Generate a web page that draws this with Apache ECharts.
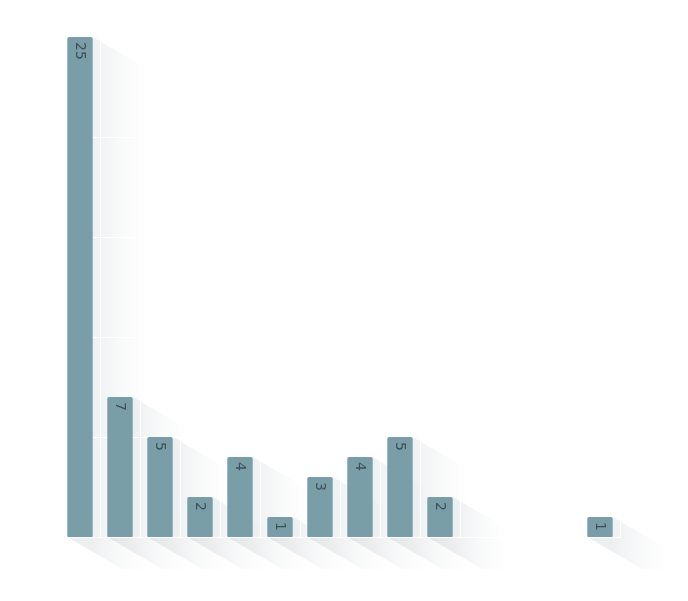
<!DOCTYPE html>
<html>
<head>
<meta charset="utf-8">
<script src="https://cdn.jsdelivr.net/npm/echarts@6/dist/echarts.min.js"></script>
<style>html,body{margin:0;padding:0;background:#fff;}#main{width:688px;height:601px;}</style>
</head>
<body>
<div id="main"></div>
<script>
var categories = ['1','2','3','4','5','6','7','8','9','10','11','12','13','14'];
var values = [25, 7, 5, 2, 4, 1, 3, 4, 5, 2, null, null, null, 1];
var yTicks = [0, 5, 10, 15, 20, 25];

var chart = echarts.init(document.getElementById('main'));
var BAR_RATIO = 0.635;
var shadowData = values.map(function (v, i) { return [i, v == null ? 0 : v]; });

function renderShadow(params, api) {
  var idx = api.value(0);
  var v = api.value(1);
  if (!v) return null;
  var top = api.coord([idx, v]);
  var base = api.coord([idx, 0]);
  var w = api.size([1, 0])[0] * BAR_RATIO;
  var xL = top[0] - w / 2, xR = top[0] + w / 2;
  var dx = 55, dy = 32;
  var pts = [
    [xL, top[1]], [xR, top[1]], [xR + dx, top[1] + dy],
    [xR + dx, base[1] + dy], [xL + dx, base[1] + dy], [xL, base[1]]
  ];
  var f = w / (w + dx);
  return {
    type: 'polygon',
    shape: { points: pts },
    style: {
      fill: new echarts.graphic.LinearGradient(0, 0, 1, 0, [
        { offset: 0, color: 'rgba(60,85,95,0.10)' },
        { offset: f, color: 'rgba(60,85,95,0.09)' },
        { offset: f + (1 - f) * 0.5, color: 'rgba(60,85,95,0.03)' },
        { offset: 1, color: 'rgba(60,85,95,0)' }
      ])
    },
    silent: true
  };
}

chart.setOption({
  animation: false,
  backgroundColor: '#ffffff',
  grid: { left: 60, right: 68, top: 37, bottom: 64 },
  xAxis: {
    type: 'category',
    data: categories,
    z: 2,
    axisLine: { show: true, lineStyle: { color: '#ffffff', width: 1 } },
    axisTick: { show: false },
    axisLabel: { show: false },
    splitLine: { show: true, interval: 0, lineStyle: { color: '#ffffff', width: 1 } }
  },
  yAxis: {
    type: 'value',
    min: yTicks[0],
    max: yTicks[yTicks.length - 1],
    interval: yTicks[1] - yTicks[0],
    z: 2,
    axisLine: { show: false },
    axisTick: { show: false },
    axisLabel: { show: false },
    splitLine: { show: true, lineStyle: { color: '#ffffff', width: 1 } }
  },
  series: [
    {
      type: 'custom',
      z: 1,
      renderItem: renderShadow,
      data: shadowData,
      encode: { x: 0, y: 1 },
      silent: true
    },
    {
      type: 'bar',
      z: 3,
      data: values,
      barWidth: (BAR_RATIO * 100) + '%',
      itemStyle: { color: '#799ea8', borderRadius: [2, 2, 1, 1] },
      label: {
        show: true,
        position: 'insideTop',
        distance: 5,
        rotate: -90,
        align: 'left',
        verticalAlign: 'middle',
        color: '#3e4f55',
        fontSize: 14,
        fontFamily: 'DejaVu Sans'
      }
    }
  ]
});
</script>
</body>
</html>
